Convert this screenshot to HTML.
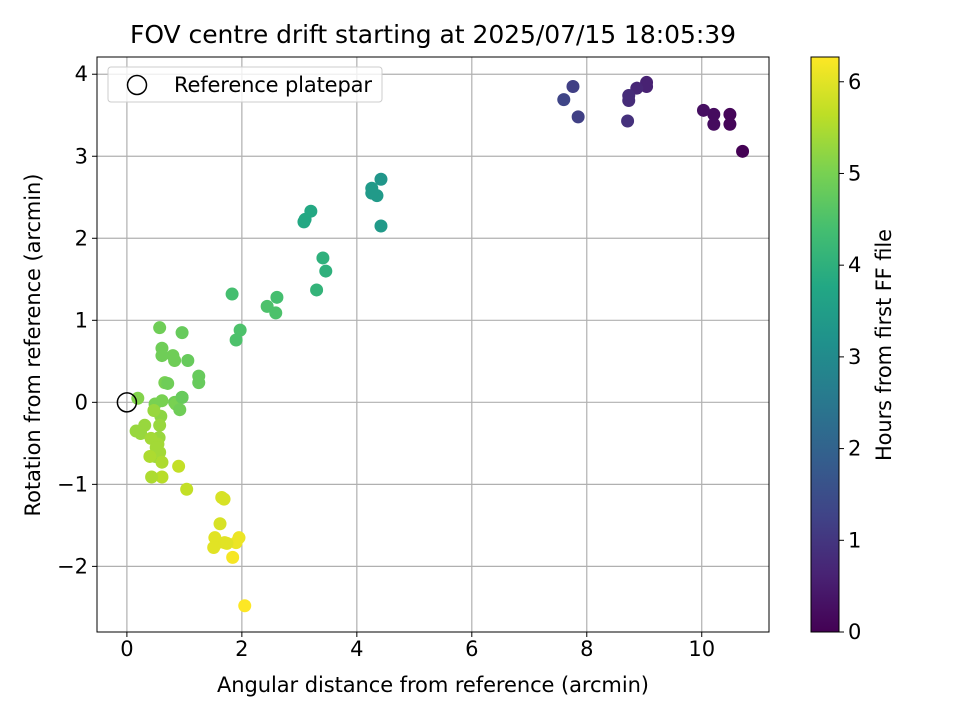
<!DOCTYPE html>
<html><head><meta charset="utf-8"><style>
body{margin:0;background:#fff;font-family:"Liberation Sans","DejaVu Sans",sans-serif;}
svg text{font-family:"DejaVu Sans","Liberation Sans",sans-serif;}
</style></head><body>
<svg id="c" width="960" height="720" xmlns="http://www.w3.org/2000/svg"></svg>
<script>
// data: angular distance (arcmin), rotation (arcmin), hours
const xs=[10.71,10.49,10.49,10.21,10.21,10.03,9.04,9.04,8.87,8.73,8.73,8.71,7.85,7.76,7.60,
4.42,4.35,4.26,4.26,4.42,3.20,3.10,3.08,3.46,3.41,3.30,
1.83,2.44,2.61,2.59,1.97,1.90,0.57,0.96,1.06,0.80,0.83,1.25,1.25,0.61,0.61,0.66,0.71,0.83,0.96,0.19,0.49,0.61,0.85,0.96,0.92,0.59,0.47,0.57,0.31,0.16,0.24,0.56,0.54,0.42,0.49,0.57,0.51,0.61,0.40,0.61,0.43,0.90,1.04,
1.65,1.69,1.62,1.53,1.58,1.70,1.95,1.90,1.84,2.05,1.51,1.74];
const ys=[3.06,3.39,3.51,3.39,3.51,3.56,3.90,3.85,3.83,3.74,3.68,3.43,3.48,3.85,3.69,
2.72,2.52,2.61,2.55,2.15,2.33,2.23,2.20,1.60,1.76,1.37,
1.32,1.17,1.28,1.09,0.88,0.76,0.91,0.85,0.51,0.57,0.51,0.32,0.24,0.66,0.57,0.24,0.23,0.00,0.06,0.05,-0.02,0.02,-0.02,0.06,-0.09,-0.17,-0.10,-0.28,-0.28,-0.35,-0.38,-0.43,-0.51,-0.44,-0.66,-0.61,-0.55,-0.73,-0.66,-0.91,-0.91,-0.78,-1.06,
-1.16,-1.18,-1.48,-1.65,-1.71,-1.71,-1.65,-1.71,-1.89,-2.48,-1.77,-1.72];
const hs=[0.0,0.1,0.1,0.2,0.2,0.25,0.6,0.6,0.7,0.8,0.8,0.9,1.2,1.2,1.3,
3.3,3.4,3.4,3.4,3.4,3.8,3.8,3.8,4.0,4.0,4.1,
4.4,4.5,4.4,4.5,4.5,4.5,4.9,4.8,4.8,4.9,4.9,4.8,4.8,4.9,4.9,5.0,4.9,4.9,4.8,5.1,5.0,5.0,5.0,4.8,4.9,5.2,5.3,5.3,5.3,5.3,5.3,5.3,5.4,5.4,5.3,5.4,5.4,5.5,5.5,5.6,5.5,5.7,5.7,
5.9,5.9,5.9,6.0,6.0,6.0,6.1,6.1,6.2,6.3,6.0,6.0];
const xTicks=[0,2,4,6,8,10];
const yTicks=[-2,-1,0,1,2,3,4];
const cTicks=[0,1,2,3,4,5,6];

const L=97,R=769,T=57,B=632,X0=-0.52,X1=11.17,Y0=-2.80,Y1=4.21,C0=0,C1=6.27;
const sx=v=>L+(v-X0)/(X1-X0)*(R-L);
const sy=v=>B-(v-Y0)/(Y1-Y0)*(B-T);
const sc=v=>B-(v-C0)/(C1-C0)*(B-T);
const V=[[68,1,84],[72,35,116],[64,67,135],[52,94,141],[41,120,142],[32,144,140],[34,167,132],[68,190,112],[121,209,81],[189,222,38],[253,231,37]];
function vir(t){t=Math.max(0,Math.min(1,t))*10;const i=Math.min(9,Math.floor(t)),f=t-i;const a=V[i],b=V[i+1];return `rgb(${a.map((c,k)=>Math.round(c+(b[k]-c)*f)).join(',')})`;}
const svg=document.getElementById('c');const NS='http://www.w3.org/2000/svg';
function el(tag,at,parent){const e=document.createElementNS(NS,tag);for(const k in at)e.setAttribute(k,at[k]);(parent||svg).appendChild(e);return e;}
function txt(s,at){const e=el('text',at);e.textContent=s;return e;}
const FT=21;
// grid
xTicks.forEach(v=>{const g=el('line',{x1:sx(v),x2:sx(v),y1:T,y2:B,stroke:'#b0b0b0','stroke-width':1.2});


const t=el('line',{x1:sx(v),x2:sx(v),y1:B,y2:B+5,stroke:'#000'});


const l=txt(v,{x:sx(v),y:B+24,'text-anchor':'middle','font-size':FT});

});
yTicks.forEach(v=>{const g=el('line',{x1:L,x2:R,y1:sy(v),y2:sy(v),stroke:'#b0b0b0','stroke-width':1.2});


const t=el('line',{x1:L-5,x2:L,y1:sy(v),y2:sy(v),stroke:'#000'});


const l=txt(v<0?'\u2212'+(-v):v,{x:L-9,y:sy(v)+7,'text-anchor':'end','font-size':FT});

});
// points
xs.forEach((x,i)=>{const c=el('circle',{cx:sx(x),cy:sy(ys[i]),r:6.5,fill:vir((hs[i]-C0)/(C1-C0))});

});
const ref=el('circle',{cx:sx(0),cy:sy(0),r:9.5,fill:'none',stroke:'#000','stroke-width':1.5});


const fr=el('rect',{x:L,y:T,width:R-L,height:B-T,fill:'none',stroke:'#000','stroke-width':1});


// legend
const lg=el('g',{});


el('rect',{x:108,y:67,width:274,height:35,rx:3,fill:'#fff','fill-opacity':0.8,stroke:'#ccc'},lg);
el('circle',{cx:137,cy:85,r:9.5,fill:'none',stroke:'#000','stroke-width':1.5},lg);
const lt=el('text',{x:174,y:92,'font-size':FT,textLength:198},lg);lt.textContent='Reference platepar';
// titles
const tt=txt('FOV centre drift starting at 2025/07/15 18:05:39',{x:433,y:43,'text-anchor':'middle','font-size':25,textLength:606});


const xt=txt('Angular distance from reference (arcmin)',{x:433,y:692,'text-anchor':'middle','font-size':FT,textLength:432});


const yt=txt('Rotation from reference (arcmin)',{x:0,y:0,'text-anchor':'middle','font-size':FT,textLength:343,transform:'translate(40,345) rotate(-90)'});


// colorbar
const defs=el('defs',{});const gr=el('linearGradient',{id:'vg',x1:0,y1:1,x2:0,y2:0},defs);
V.forEach((c,i)=>el('stop',{offset:i/10,'stop-color':`rgb(${c.join(',')})`},gr));
const cb=el('rect',{x:811,y:T,width:28,height:B-T,fill:'url(#vg)',stroke:'#000','stroke-width':1});


cTicks.forEach(v=>{const t=el('line',{x1:839,x2:844,y1:sc(v),y2:sc(v),stroke:'#000'});


const l=txt(v,{x:848,y:sc(v)+7,'font-size':FT});

});
const ct=txt('Hours from first FF file',{x:0,y:0,'text-anchor':'middle','font-size':FT,textLength:232,transform:'translate(891,345) rotate(-90)'});


</script>
</body></html>
